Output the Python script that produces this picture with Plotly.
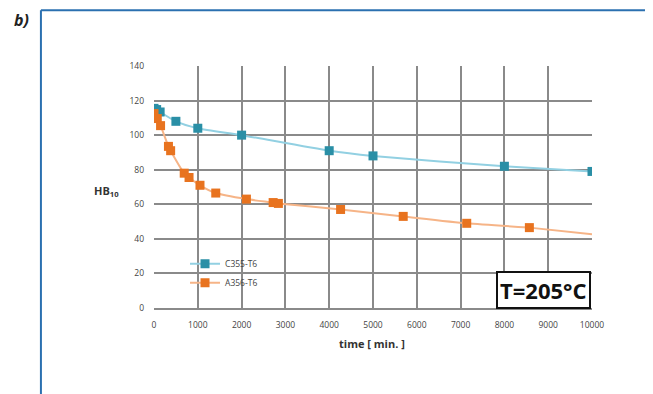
import plotly.graph_objects as go

# ---- data ----
c355_time = [0, 60, 140, 500, 1000, 2000, 4000, 5000, 8000, 10000]
c355_hb = [115.5, 114.8, 113.4, 108, 104, 100, 91, 88, 82, 79]

a356_time = [0, 75, 150, 330, 380, 690, 800, 1050, 1410, 2110, 2720, 2840, 4260, 5690, 7140, 8570]
a356_hb = [112.5, 109.6, 105.5, 93.5, 91, 78, 75.5, 71, 66.5, 63, 61, 60.5, 57, 53, 49, 46.5]

# tail of the A356-T6 trend line beyond the last measured point
a356_tail_time = [8570, 10000]
a356_tail_hb = [46.5, 42.6]

x_ticks = [0, 1000, 2000, 3000, 4000, 5000, 6000, 7000, 8000, 9000, 10000]
y_ticks = [0, 20, 40, 60, 80, 100, 120, 140]

OFF = 8  # page body margin
W, H = 653 - OFF, 394 - OFF
# plot area in page pixels
L, R, T, B = 154, 591.7, 65.7, 307.7
pw, ph = R - L, B - T


def px(x):
    return (x - L) / pw


def py(y):
    return (B - y) / ph


blue_mk, blue_ln = "#2a8fa6", "#92d0e2"
orng_mk, orng_ln = "#e8731f", "#f6b487"
grid = "#8a8a8a"

fig = go.Figure()
fig.add_trace(go.Scatter(x=a356_tail_time, y=a356_tail_hb, mode="lines",
                         line=dict(color=orng_ln, width=2), showlegend=False,
                         hoverinfo="skip"))
fig.add_trace(go.Scatter(x=c355_time, y=c355_hb, mode="lines+markers", name="C355-T6",
                         line=dict(color=blue_ln, width=2, shape="spline", smoothing=0.6),
                         marker=dict(symbol="square", size=9, color=blue_mk)))
fig.add_trace(go.Scatter(x=a356_time, y=a356_hb, mode="lines+markers", name="A356-T6",
                         line=dict(color=orng_ln, width=2, shape="spline", smoothing=0.6),
                         marker=dict(symbol="square", size=9, color=orng_mk)))

font_fam = "Open Sans, Lato, sans-serif"
fig.update_layout(
    width=W, height=H,
    margin=dict(l=L - OFF, r=653 - R, t=T - OFF, b=394 - B, pad=0),
    paper_bgcolor="white", plot_bgcolor="white",
    font=dict(family=font_fam, size=8, color="#444444"),
    showlegend=True,
    legend=dict(x=px(185), y=py(249), xanchor="left", yanchor="top",
                bgcolor="rgba(0,0,0,0)", font=dict(size=8.5, color="#444444"),
                tracegroupgap=4),
    xaxis=dict(range=[0, 10000], tickvals=x_ticks, ticktext=[str(v) for v in x_ticks],
               showgrid=True, gridcolor=grid, gridwidth=1.5,
               zeroline=False, showline=True, linecolor=grid, linewidth=1.5,
               ticks="", ticklabelstandoff=8, tickfont=dict(size=8.5, color="#444444")),
    yaxis=dict(range=[0, 140], tickvals=y_ticks, ticktext=[str(v) for v in y_ticks],
               showgrid=True, gridcolor=grid, gridwidth=1.5,
               zeroline=False, showline=False,
               ticks="", ticklabelstandoff=9, tickfont=dict(size=8.5, color="#444444")),
    shapes=[
        dict(type="line", xref="paper", yref="paper", x0=px(41), x1=px(653),
             y0=py(10), y1=py(10), line=dict(color="#2b70b0", width=2)),
        dict(type="line", xref="paper", yref="paper", x0=px(41), x1=px(41),
             y0=py(10), y1=py(394), line=dict(color="#2b70b0", width=2)),
    ],
    annotations=[
        dict(text="<b><i>b)</i></b>", xref="paper", yref="paper", x=px(22), y=py(20),
             showarrow=False, font=dict(size=16, color="#222222", family="Open Sans, sans-serif"),
             xanchor="center", yanchor="middle"),
        dict(text="<b>HB<sub>10</sub></b>", xref="paper", yref="paper", x=px(107), y=py(191),
             showarrow=False, font=dict(size=11, color="#333333"),
             xanchor="center", yanchor="middle"),
        dict(text="<b>time [ min. ]</b>", xref="paper", yref="paper", x=px(372), y=py(343),
             showarrow=False, font=dict(size=11, color="#333333"),
             xanchor="center", yanchor="middle"),
        dict(text="<b>T=205°C</b>", xref="paper", yref="paper", x=px(591), y=py(290),
             showarrow=False, font=dict(size=22, color="#111111", family="Open Sans, sans-serif"),
             xanchor="right", yanchor="middle", bgcolor="white",
             bordercolor="#111111", borderwidth=2, borderpad=2),
    ],
)

fig.write_html("out.html")
